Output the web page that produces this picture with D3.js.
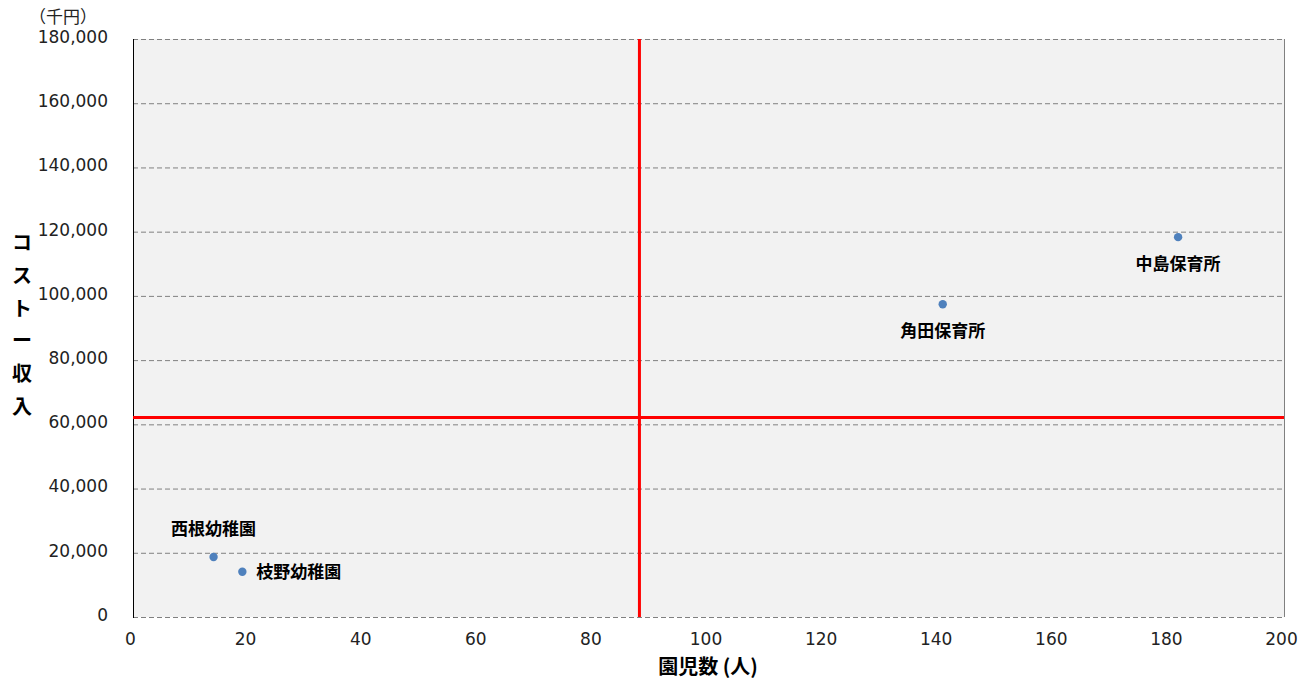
<!DOCTYPE html>
<html><head><meta charset="utf-8">
<script src="https://cdn.jsdelivr.net/npm/d3@7"></script>
<style>body{margin:0;background:#fff;}svg{display:block;}</style>
</head><body>
<svg id="c" width="1312" height="684"></svg>
<script>
const names = ["西根幼稚園","枝野幼稚園","角田保育所","中島保育所"];
const children = [14, 19, 140.7, 181.6];
const netCost = [18700, 14100, 97400, 118300];
const avgChildren = [88.0];
const avgCost = [62100];
const xTicks = [0,20,40,60,80,100,120,140,160,180,200];
const yTicks = [0,20000,40000,60000,80000,100000,120000,140000,160000,180000];
const yTitle = ["コ","ス","ト","ー","収","入"];

const svg = d3.select("#c");
const L=133, R=1284, T=39, B=617;
const x = d3.scaleLinear().domain([0,200]).range([L,R]);
const y = d3.scaleLinear().domain([0,180000]).range([B,T]);
const font = "'DejaVu Sans', Verdana, sans-serif";
const jfont = "'Noto Sans CJK JP', sans-serif";

svg.append("rect").attr("x",L).attr("y",T).attr("width",R-L).attr("height",B-T).attr("fill","#f2f2f2");

// gridlines
svg.append("g").selectAll("line").data(yTicks).join("line")
  .attr("x1",L).attr("x2",R).attr("y1",d=>y(d)+0.5).attr("y2",d=>y(d)+0.5)
  .attr("stroke","#808080").attr("stroke-width",1).attr("stroke-dasharray","5,3");
// right border
svg.append("line").attr("x1",R+0.5).attr("x2",R+0.5).attr("y1",T).attr("y2",B).attr("stroke","#808080");
// left axis line
svg.append("line").attr("x1",L+0.5).attr("x2",L+0.5).attr("y1",T).attr("y2",B+1).attr("stroke","#000").attr("stroke-width",1);

// y tick labels
const yAxis = d3.axisLeft(y).tickValues(yTicks).tickSize(0).tickPadding(25).tickFormat(d3.format(","));
const ya = svg.append("g").attr("transform",`translate(${L},0)`).call(yAxis);
ya.select(".domain").remove();
ya.selectAll("text").attr("font-family",font).attr("font-size",17).attr("fill","#222").attr("dy","0.2em");

// x tick labels
const xAxis = d3.axisBottom(x).tickValues(xTicks).tickSize(0).tickPadding(16);
const xa = svg.append("g").attr("transform",`translate(-3,${B})`).call(xAxis);
xa.select(".domain").remove();
xa.selectAll("text").attr("font-family",font).attr("font-size",17).attr("fill","#222");

// red average lines
svg.append("line").attr("x1",x(avgChildren[0])).attr("x2",x(avgChildren[0])).attr("y1",T).attr("y2",B)
  .attr("stroke","#ff0000").attr("stroke-width",3);
svg.append("line").attr("x1",L).attr("x2",R).attr("y1",y(avgCost[0])).attr("y2",y(avgCost[0]))
  .attr("stroke","#ff0000").attr("stroke-width",3);

// points
const data = names.map((n,i)=>({n, x:children[i], y:netCost[i]}));
svg.append("g").selectAll("circle").data(data).join("circle")
  .attr("cx",d=>x(d.x)).attr("cy",d=>y(d.y)).attr("r",4.2).attr("fill","#4f81bd");

// labels
const lab = [
  {dx:0, dy:-28, anchor:"middle"},
  {dx:14, dy:0, anchor:"start"},
  {dx:0, dy:27, anchor:"middle"},
  {dx:0, dy:27, anchor:"middle"}
];
svg.append("g").selectAll("text").data(data).join("text")
  .attr("x",(d,i)=>x(d.x)+lab[i].dx).attr("y",(d,i)=>y(d.y)+lab[i].dy)
  .attr("dy","0.35em").attr("text-anchor",(d,i)=>lab[i].anchor)
  .attr("font-family",jfont).attr("font-weight","bold").attr("font-size",17).attr("fill","#000")
  .text(d=>d.n);

// unit label
svg.append("text").attr("x",29).attr("y",23).attr("font-family",jfont).attr("font-size",17).attr("fill","#222").text("（千円）");

// y title stacked
svg.append("g").selectAll("text").data(yTitle).join("text")
  .attr("x",22).attr("y",(d,i)=>243+i*32.8).attr("dy","0.35em").attr("text-anchor","middle")
  .attr("font-family",jfont).attr("font-weight","bold").attr("font-size",20).attr("fill","#000")
  .text(d=>d);

// x title
svg.append("text").attr("x",708).attr("y",667).attr("dy","0.35em").attr("text-anchor","middle")
  .attr("font-family",jfont).attr("font-weight","bold").attr("font-size",20).attr("fill","#000").text("園児数 (人)");
</script>
</body></html>
